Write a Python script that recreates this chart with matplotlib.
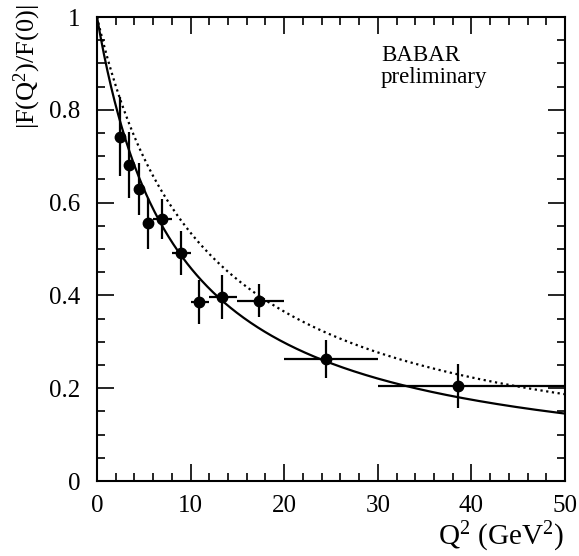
import numpy as np
import matplotlib
matplotlib.use("Agg")
import matplotlib.pyplot as plt
from matplotlib.ticker import MultipleLocator

# Data
q2 = [2.46, 3.45, 4.49, 5.48, 6.91, 8.94, 10.93, 13.4, 17.34, 24.5, 38.6]
q2_lo = [2.0, 3.0, 4.0, 5.0, 6.0, 8.0, 10.0, 12.0, 15.0, 20.0, 30.0]
q2_hi = [3.0, 4.0, 5.0, 6.0, 8.0, 10.0, 12.0, 15.0, 20.0, 30.0, 50.0]
ff = [0.742, 0.681, 0.629, 0.555, 0.564, 0.491, 0.386, 0.397, 0.389, 0.263, 0.205]
ff_err = [0.085, 0.072, 0.056, 0.054, 0.043, 0.047, 0.047, 0.048, 0.036, 0.040, 0.048]

# Monopole curves 1/(1+Q^2/Lambda), Lambda in GeV^2
lam_fit = 8.5
lam_dotted = 11.5

plt.rcParams['font.family'] = ['Liberation Serif', 'DejaVu Serif']
plt.rcParams['mathtext.fontset'] = 'custom'
plt.rcParams['mathtext.rm'] = 'Liberation Serif'
plt.rcParams['mathtext.it'] = 'Liberation Serif:italic'

fig = plt.figure(figsize=(5.79, 5.56), dpi=100)
ax = fig.add_axes([97/579, 1-481/556, (565-97)/579, (481-17)/556])

xerr = [np.array(q2) - np.array(q2_lo), np.array(q2_hi) - np.array(q2)]

qq = np.linspace(0, 50, 400)
ax.plot(qq, 1/(1+qq/lam_fit), color='black', lw=1.6)
ax.plot(qq, 1/(1+qq/lam_dotted), color='black', lw=1.6, linestyle=(0, (1, 1.6)))

ax.errorbar(q2, ff, yerr=ff_err, xerr=xerr, fmt='o', color='black',
            ms=7.5, elinewidth=1.6, capsize=0)

ax.set_xlim(0, 50)
ax.set_ylim(0, 1)
ax.xaxis.set_major_locator(MultipleLocator(10))
ax.xaxis.set_minor_locator(MultipleLocator(2))
ax.yaxis.set_minor_locator(MultipleLocator(0.05))
ax.set_yticks([0, 0.2, 0.4, 0.6, 0.8, 1.0])
ax.set_yticklabels(['0', '0.2', '0.4', '0.6', '0.8', '1'])
ax.tick_params(which='both', direction='in', top=True, right=True, labelsize=18)
ax.tick_params(which='major', length=12, width=1.2)
ax.tick_params(which='minor', length=6, width=1.2)
ax.tick_params(axis='x', pad=10)
ax.tick_params(axis='y', pad=12)
for s in ax.spines.values():
    s.set_linewidth(1.5)

fig.text(564/579, 1-545/556, r'Q$^2$ (GeV$^2$)', ha='right', va='baseline', fontsize=21)
fig.text(27/579, 1-4/556, r'|F(Q$^2$)/F(0)|', ha='center', va='top', rotation=90, fontsize=19)

fig.text(381/579, 1-61/556, 'BABAR', ha='left', va='baseline', fontsize=16.5)
fig.text(381/579, 1-83/556, 'preliminary', ha='left', va='baseline', fontsize=16.5)

fig.savefig('out.png', dpi=100)
